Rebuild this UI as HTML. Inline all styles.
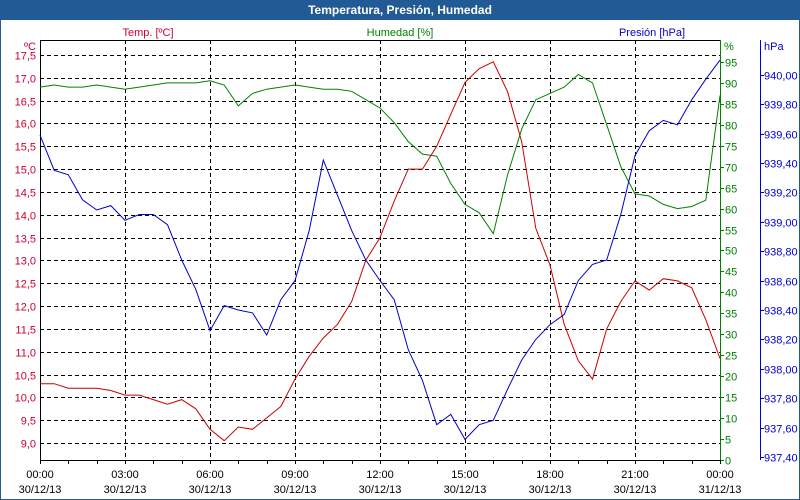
<!DOCTYPE html>
<html><head><meta charset="utf-8"><style>
body{margin:0;background:#fff;}
#wrap{position:relative;width:800px;height:500px;overflow:hidden;font-family:"Liberation Sans",sans-serif;}
svg text{font-family:"Liberation Sans",sans-serif;font-size:11px;}
</style></head><body>
<div id="wrap">
<svg id="chart" width="800" height="500" xmlns="http://www.w3.org/2000/svg">
<rect x="0.5" y="0.5" width="799" height="499" fill="#fff" stroke="#215a94"/>
<rect x="0" y="0" width="800" height="20" fill="#215a94"/>
<text x="400" y="14" text-anchor="middle" fill="#fff" font-weight="bold" style="font-size:12px">Temperatura, Presión, Humedad</text>
<text x="148" y="36" text-anchor="middle" fill="#cc0033">Temp. [ºC]</text>
<text x="400" y="36" text-anchor="middle" fill="#008000">Humedad [%]</text>
<text x="652" y="36" text-anchor="middle" fill="#0000cc">Presión [hPa]</text>
<g id="grid"></g><g id="axes"></g><g id="series"></g>
</svg>
</div>
<script>
const hours = [0,0.5,1,1.5,2,2.5,3,3.5,4,4.5,5,5.5,6,6.5,7,7.5,8,8.5,9,9.5,10,10.5,11,11.5,12,12.5,13,13.5,14,14.5,15,15.5,16,16.5,17,17.5,18,18.5,19,19.5,20,20.5,21,21.5,22,22.5,23,23.5,24];
const temperature = [10.3,10.3,10.2,10.2,10.2,10.15,10.05,10.05,9.95,9.85,9.95,9.75,9.3,9.05,9.35,9.3,9.55,9.8,10.4,10.9,11.3,11.6,12.1,13.0,13.5,14.3,15.0,15.0,15.5,16.2,16.9,17.2,17.35,16.7,15.6,13.7,12.9,11.6,10.8,10.4,11.5,12.1,12.55,12.35,12.6,12.55,12.4,11.7,10.85];
const humidity = [89,89.5,89,89,89.5,89,88.5,89,89.5,90,90,90,90.5,89.5,84.5,87.5,88.5,89,89.5,89,88.5,88.5,88,86,84,80.5,76,73,72.5,66,61,59,54,68,79,86,87.5,89,92,90,80,70,63.5,63,61,60,60.5,62,87];
const pressure = [939.59,939.35,939.32,939.15,939.08,939.11,939.01,939.05,939.05,938.98,938.74,938.54,938.26,938.43,938.40,938.38,938.23,938.47,938.60,938.94,939.42,939.18,938.94,938.74,938.60,938.47,938.13,937.92,937.62,937.69,937.52,937.62,937.65,937.86,938.06,938.20,938.30,938.37,938.60,938.71,938.74,939.05,939.45,939.62,939.69,939.66,939.83,939.97,940.10];
const tempTicks = ["9,0","9,5","10,0","10,5","11,0","11,5","12,0","12,5","13,0","13,5","14,0","14,5","15,0","15,5","16,0","16,5","17,0","17,5"];
const humTicks = ["0","5","10","15","20","25","30","35","40","45","50","55","60","65","70","75","80","85","90","95"];
const presTicks = ["937,40","937,60","937,80","938,00","938,20","938,40","938,60","938,80","939,00","939,20","939,40","939,60","939,80","940,00"];
const timeLabels = ["00:00","03:00","06:00","09:00","12:00","15:00","18:00","21:00","00:00"];
const dateLabels = ["30/12/13","30/12/13","30/12/13","30/12/13","30/12/13","30/12/13","30/12/13","30/12/13","31/12/13"];

const X0=40,X1=720,Y0=40,YB=460;
const xs=h=>X0+(X1-X0)*h/24;
const yT=t=>443-(t-9)*45.65;
const yH=p=>460-p*4.19;
const yP=p=>457-(p-937.4)/0.2*29.4;
const NS="http://www.w3.org/2000/svg";
function mk(tag,attrs,parent,txt){const e=document.createElementNS(NS,tag);for(const k in attrs)e.setAttribute(k,attrs[k]);if(txt!==undefined)e.textContent=txt;parent.appendChild(e);return e;}
const grid=document.getElementById('grid'),axes=document.getElementById('axes'),ser=document.getElementById('series');

tempTicks.forEach((lab,i)=>{const v=9+i*0.5,y=Math.round(yT(v))+0.5;
 const g=mk('line',{x1:X0,x2:X1,y1:y,y2:y,stroke:'#000','stroke-dasharray':'4,3'},grid);
 
 
 const t=mk('text',{x:36,y:y+4,'text-anchor':'end',fill:'#cc0033'},axes,lab);
 
 
});
for(let i=1;i<8;i++){const x=Math.round(xs(i*3))+0.5;
 const g=mk('line',{x1:x,x2:x,y1:Y0,y2:YB,stroke:'#000','stroke-dasharray':'4,3'},grid);
 
 
}
mk('line',{x1:X0,x2:X1,y1:Y0+0.5,y2:Y0+0.5,stroke:'#000'},axes);
mk('line',{x1:X0+0.5,x2:X0+0.5,y1:Y0,y2:YB,stroke:'#000'},axes);
mk('line',{x1:X0,x2:X1,y1:YB+0.5,y2:YB+0.5,stroke:'#000'},axes);
mk('line',{x1:X1+0.5,x2:X1+0.5,y1:Y0,y2:YB,stroke:'#008000'},axes);
mk('line',{x1:760.5,x2:760.5,y1:Y0,y2:YB,stroke:'#0000cc'},axes);
const u1=mk('text',{x:36,y:50,'text-anchor':'end',fill:'#cc0033'},axes,'ºC');


const u2=mk('text',{x:724,y:50,fill:'#008000'},axes,'%');


const u3=mk('text',{x:764,y:50,fill:'#0000cc'},axes,'hPa');



humTicks.forEach((lab,i)=>{const y=Math.round(yH(i*5))+0.5;
 mk('line',{x1:X1,x2:X1+4,y1:y,y2:y,stroke:'#008000'},axes);
 const t=mk('text',{x:725,y:y+4,fill:'#008000'},axes,lab);
 
 
});
presTicks.forEach((lab,i)=>{const y=Math.round(yP(937.4+i*0.2))+0.5;
 mk('line',{x1:760,x2:764,y1:y,y2:y,stroke:'#0000cc'},axes);
 const t=mk('text',{x:764,y:y+4,fill:'#0000cc'},axes,lab);
 
 
});
for(let h=0;h<=24;h++){const x=Math.round(xs(h))+0.5;
 mk('line',{x1:x,x2:x,y1:YB,y2:YB+4,stroke:'#000'},axes);}
timeLabels.forEach((lab,i)=>{const x=xs(i*3);
 const t=mk('text',{x:x,y:478,'text-anchor':'middle',fill:'#000'},axes,lab);
 
 
 const d=mk('text',{x:x,y:493,'text-anchor':'middle',fill:'#000'},axes,dateLabels[i]);
 
 
});
function line(vals,yf,color,name){
 const pts=vals.map((v,i)=>xs(hours[i]).toFixed(1)+','+yf(v).toFixed(1)).join(' ');
 const p=mk('polyline',{points:pts,fill:'none',stroke:color,'stroke-width':1},ser);
 
 
}
line(humidity,yH,'#008000','humidity-line');
line(temperature,yT,'#cc0000','temperature-line');
line(pressure,yP,'#0000cc','pressure-line');
</script>
</body></html>
